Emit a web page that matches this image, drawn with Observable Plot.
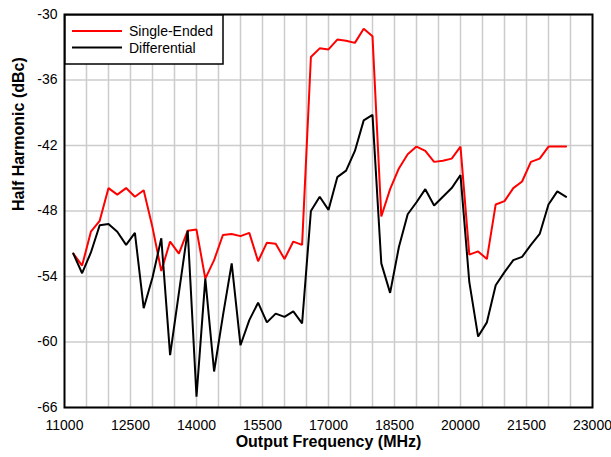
<!DOCTYPE html>
<html>
<head>
<meta charset="utf-8">
<script src="https://cdn.jsdelivr.net/npm/d3@7"></script>
<script src="https://cdn.jsdelivr.net/npm/@observablehq/plot@0.6"></script>
<style>
  html, body { margin: 0; padding: 0; background: white; }
  #chart { width: 611px; height: 457px; }
</style>
</head>
<body>
<div id="chart"></div>
<script>
const freqs = [11200, 11400, 11600, 11800, 12000, 12200, 12400, 12600, 12800, 13000,
  13200, 13400, 13600, 13800, 14000, 14200, 14400, 14600, 14800, 15000,
  15200, 15400, 15600, 15800, 16000, 16200, 16400, 16600, 16800, 17000,
  17200, 17400, 17600, 17800, 18000, 18200, 18400, 18600, 18800, 19000,
  19200, 19400, 19600, 19800, 20000, 20200, 20400, 20600, 20800, 21000,
  21200, 21400, 21600, 21800, 22000, 22200, 22400];

const singleEnded = [-51.9, -53.0, -49.9, -48.9, -45.9, -46.5, -45.9, -46.7, -46.1, -49.5,
  -53.5, -50.8, -51.9, -49.8, -49.7, -54.2, -52.5, -50.2, -50.1, -50.3,
  -50.0, -52.6, -50.9, -51.0, -52.4, -50.8, -51.1, -33.9, -33.1, -33.2,
  -32.3, -32.4, -32.6, -31.3, -32.0, -48.5, -46.0, -44.1, -42.8, -42.1,
  -42.5, -43.5, -43.4, -43.2, -42.1, -52.0, -51.7, -52.4, -47.4, -47.1,
  -45.9, -45.3, -43.5, -43.2, -42.1, -42.1, -42.1];

const differential = [-51.9, -53.7, -51.8, -49.3, -49.2, -49.9, -51.1, -50.0, -56.9, -54.1,
  -50.5, -61.2, -55.5, -49.8, -65.0, -54.2, -62.7, -57.6, -52.8, -60.3,
  -58.0, -56.4, -58.2, -57.4, -57.7, -57.2, -58.3, -48.0, -46.7, -47.9,
  -44.9, -44.3, -42.5, -39.7, -39.2, -52.8, -55.5, -51.3, -48.3, -47.2,
  -46.0, -47.5, -46.7, -45.9, -44.7, -54.5, -59.5, -58.2, -54.8, -53.6,
  -52.5, -52.2, -51.1, -50.1, -47.4, -46.2, -46.7];

const xTicks = [11000, 12500, 14000, 15500, 17000, 18500, 20000, 21500, 23000];
const xGrid = [11500, 12000, 12500, 13000, 13500, 14000, 14500, 15000, 15500, 16000, 16500,
  17000, 17500, 18000, 18500, 19000, 19500, 20000, 20500, 21000, 21500, 22000, 22500];
const yTicks = [-66, -60, -54, -48, -42, -36, -30];

const seriesNames = ["Single-Ended", "Differential"];
const seriesColors = ["#ff0000", "#000000"];

const xTitle = "Output Frequency (MHz)";
const yTitle = "Half Harmonic (dBc)";

const rows = [];
freqs.forEach((f, i) => {
  rows.push({freq: f, value: singleEnded[i], series: seriesNames[0]});
});
freqs.forEach((f, i) => {
  rows.push({freq: f, value: differential[i], series: seriesNames[1]});
});

const font = "'Liberation Sans', Arial, Helvetica, sans-serif";

const chart = Plot.plot({
  width: 611,
  height: 457,
  marginLeft: 64,
  marginRight: 19,
  marginTop: 14,
  marginBottom: 50,
  style: {fontFamily: font, fontSize: "14px", background: "white", color: "black", overflow: "visible"},
  x: {domain: [11000, 23000], ticks: xTicks, tickFormat: d => String(d), tickSize: 0, tickPadding: 13, label: null},
  y: {domain: [-66, -30], ticks: yTicks, tickFormat: d => String(d), tickSize: 0, tickPadding: 7, label: null},
  color: {domain: seriesNames, range: seriesColors},
  marks: [
    Plot.ruleX(xGrid, {stroke: "#cccccc", strokeWidth: 1.5}),
    Plot.ruleY(yTicks, {stroke: "#cccccc", strokeWidth: 1.5}),
    Plot.line(rows, {x: "freq", y: "value", z: "series", stroke: "series", strokeWidth: 2, strokeLinejoin: "miter"}),
    Plot.frame({stroke: "black", strokeWidth: 2}),
    Plot.text([xTitle], {frameAnchor: "bottom", lineAnchor: "middle", dy: 34, fontWeight: "bold", fontSize: 16, fill: "black"}),
    Plot.text([yTitle], {frameAnchor: "left", lineAnchor: "middle", dx: -46, rotate: -90, fontWeight: "bold", fontSize: 16, fill: "black"})
  ]
});

document.getElementById("chart").appendChild(chart);

// Legend box inside the plot area, top-left
const svg = d3.select(chart);
const lg = svg.append("g").attr("font-family", font).attr("font-size", 14).attr("text-anchor", "start");
lg.append("rect").attr("x", 65).attr("y", 15).attr("width", 158).attr("height", 49)
  .attr("fill", "white").attr("stroke", "black").attr("stroke-width", 1.5);
seriesNames.forEach((name, i) => {
  const cy = 31 + i * 16.5;
  lg.append("line").attr("x1", 72).attr("x2", 122).attr("y1", cy).attr("y2", cy)
    .attr("stroke", seriesColors[i]).attr("stroke-width", 2);
  lg.append("text").attr("x", 129).attr("y", cy + 5).attr("text-anchor", "start").attr("fill", "black").text(name);
});
</script>
</body>
</html>
